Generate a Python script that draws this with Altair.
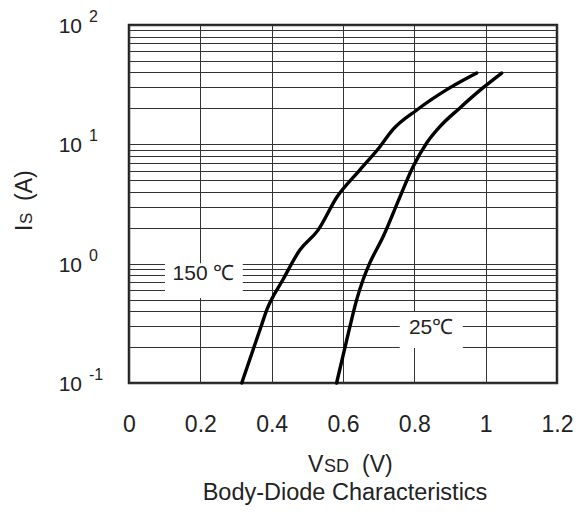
import altair as alt
import pandas as pd

# ---- data ----
v_150 = [0.316, 0.370, 0.386, 0.431, 0.479, 0.530, 0.583, 0.647, 0.703, 0.739, 0.807, 0.899, 0.975]
i_150 = [0.1, 0.296, 0.408, 0.729, 1.30, 1.91, 3.62, 6.09, 9.5, 13.2, 19.4, 29.7, 39.6]
v_25 = [0.582, 0.617, 0.638, 0.656, 0.675, 0.712, 0.760, 0.796, 0.835, 0.871, 0.927, 0.992, 1.045]
i_25 = [0.1, 0.277, 0.495, 0.729, 1.01, 1.67, 3.65, 6.45, 10.3, 14.0, 20.1, 29.7, 39.6]

x_ticks = [0, 0.2, 0.4, 0.6, 0.8, 1.0, 1.2]
y_decades = [0.1, 1, 10, 100]
y_exponents = ["-1", "0", "1", "2"]
y_grid = [0.1, 0.2, 0.3, 0.4, 0.5, 0.6, 0.7, 0.8, 0.9,
          1, 2, 3, 4, 5, 6, 7, 8, 9,
          10, 20, 30, 40, 50, 60, 70, 80, 90, 100]

curve_labels = ["150 \u2103", "25\u2103"]
label_v = [0.209, 0.847]
label_i = [0.826, 0.291]
box_v1 = [0.101, 0.759]
box_v2 = [0.319, 0.936]
box_i1 = [0.515, 0.196]
box_i2 = [1.01, 0.393]

FONT = "Liberation Sans"
TXT = "#222222"

curves = pd.DataFrame(
    {"V": v_150 + v_25, "I": i_150 + i_25,
     "series": ["150"] * len(v_150) + ["25"] * len(v_25)}
)
labels = pd.DataFrame({"text": curve_labels, "V": label_v, "I": label_i,
                       "v1": box_v1, "v2": box_v2, "i1": box_i1, "i2": box_i2})
decades = pd.DataFrame({"I": y_decades, "exp": y_exponents})

xscale = alt.Scale(domain=[0, 1.2], nice=False, zero=False)
yscale = alt.Scale(type="log", domain=[0.1, 100], nice=False)

xaxis = alt.Axis(values=x_ticks, format="~g", grid=True, gridColor="#333333",
                 gridWidth=1, ticks=False, domain=False, labelFontSize=23,
                 labelFont=FONT, labelColor=TXT, labelPadding=30,
                 labelFlush=False, title=None)
yaxis = alt.Axis(values=y_grid, grid=True, gridColor="#333333", gridWidth=1,
                 ticks=False, domain=False, labels=False, title=None)

base_lines = alt.Chart(curves).mark_line(color="black", strokeWidth=3.4,
                                          strokeCap="round",
                                          interpolate="monotone").encode(
    x=alt.X("V:Q", scale=xscale, axis=xaxis),
    y=alt.Y("I:Q", scale=yscale, axis=yaxis),
    detail="series:N",
)

boxes = alt.Chart(labels).mark_rect(color="white").encode(
    x=alt.X("v1:Q", scale=xscale), x2="v2:Q",
    y=alt.Y("i1:Q", scale=yscale), y2="i2:Q",
)

label_text = alt.Chart(labels).mark_text(font=FONT, fontSize=21, color=TXT,
                                         baseline="middle", align="center").encode(
    x=alt.X("V:Q", scale=xscale), y=alt.Y("I:Q", scale=yscale), text="text:N"
)

ten = alt.Chart(decades).mark_text(font=FONT, fontSize=21, color=TXT,
                                   align="right", baseline="alphabetic", dy=8).encode(
    x=alt.value(-47), y=alt.Y("I:Q", scale=yscale), text=alt.value("10")
)
sup = alt.Chart(decades).mark_text(font=FONT, fontSize=16, color=TXT,
                                   align="left", baseline="alphabetic", dy=-3).encode(
    x=alt.value(-40), y=alt.Y("I:Q", scale=yscale), text="exp:N"
)

one = pd.DataFrame({"k": [0]})


def txt(s, x, y, size, angle=0, align="left"):
    kw = dict(font=FONT, fontSize=size, color=TXT, align=align, baseline="alphabetic")
    if angle:
        kw["angle"] = angle
    return alt.Chart(one).mark_text(**kw).encode(
        x=alt.value(x), y=alt.value(y), text=alt.value(s)
    )


titles = (
    txt("V", 179, 447, 23)
    + txt("SD", 195, 447, 18)
    + txt("(V)", 233, 447, 23)
    + txt("Body-Diode Characteristics", 216, 475, 23.5, align="center")
    + txt("I", -97, 206, 23, angle=270)
    + txt("S", -97, 199, 17, angle=270)
    + txt("(A)", -97, 176, 23, angle=270)
)

chart = alt.layer(base_lines, boxes, label_text, ten, sup, titles).properties(
    width=428, height=358,
    padding={"left": 121, "top": 17, "right": 21, "bottom": 123},
    autosize=alt.AutoSizeParams(type="none"),
).configure_view(stroke="#222222", strokeWidth=2.5)

chart.save("out.html", embed_options={"renderer": "svg", "actions": False})
